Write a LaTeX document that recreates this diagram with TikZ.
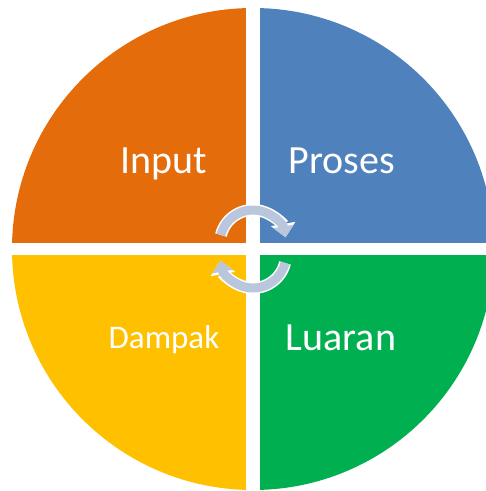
\documentclass[tikz,border=0pt]{standalone}
\usepackage{fontspec}
\setmainfont{Carlito}
\usetikzlibrary{calc}
\usetikzlibrary{arrows.meta}

\definecolor{inputcol}{HTML}{E46C0A}
\definecolor{prosescol}{HTML}{4F81BD}
\definecolor{dampakcol}{HTML}{FFC000}
\definecolor{luarancol}{HTML}{00B050}
\definecolor{cyclecol}{HTML}{B9C6DC}

\begin{document}
\begin{tikzpicture}[
	x=1pt, y=1pt,
	label/.style={text=white, anchor=base, inner sep=0pt},
	cycle/.style={line width=9pt, cyclecol, -{Triangle[width=20pt,length=11pt]}},
	cycleback/.style={line width=12pt, white, -{Triangle[width=24pt,length=13.5pt]}}]

	\def\radius{241}
	\def\gapx{7}
	\def\gapy{6}
	\def\arcr{33}

	\fill[white] (-253,-242) rectangle (233,249);
	\useasboundingbox (-253,-242) rectangle (233,249);

	\coordinate (O) at (0,0);

	\begin{scope}
		\clip (-253,-242) rectangle (233,249);
		\clip (O) circle (\radius);
		\fill[inputcol] (-300,\gapy) rectangle (-\gapx,300);
		\fill[prosescol] (\gapx,\gapy) rectangle (300,300);
		\fill[dampakcol] (-300,-300) rectangle (-\gapx,-\gapy);
		\fill[luarancol] (\gapx,-300) rectangle (300,-\gapy);
	\end{scope}

	\node[label, font=\fontsize{40}{48}\selectfont] (input) at (-89,76) {Input};
	\node[label, font=\fontsize{40}{48}\selectfont] (proses) at (89,76) {Proses};
	\node[label, font=\fontsize{33}{40}\selectfont] (dampak) at (-89,-99) {Dampak};
	\node[label, font=\fontsize{40}{48}\selectfont] (luaran) at (88,-101) {Luaran};

	% cycle arrows
	\coordinate (topc) at (0,\gapy);
	\coordinate (botc) at (0,-\gapy);
	\foreach \st in {cycleback, cycle}{
		\draw[\st] ($(topc)+(166:\arcr)$) arc[start angle=166, end angle=10, radius=\arcr];
		\draw[\st] ($(botc)+(-14:\arcr)$) arc[start angle=-14, end angle=-170, radius=\arcr];
	}

\end{tikzpicture}
\end{document}
